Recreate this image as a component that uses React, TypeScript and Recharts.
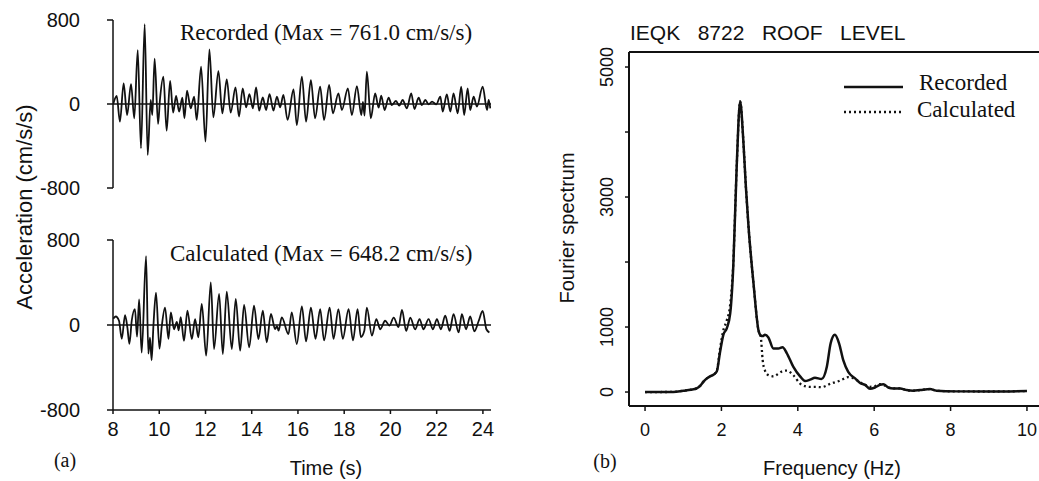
import { LineChart, Line, XAxis, YAxis, ReferenceLine } from "recharts";

const SANS = '"Liberation Sans", Arial, Helvetica, sans-serif';
const SERIF = '"Liberation Serif", "Times New Roman", serif';
const INK = "#111";

// (a) recorded roof acceleration, peaks/troughs
const recTime = [
  8.01, 8.16, 8.3, 8.46, 8.61, 8.78, 8.92, 9.07, 9.21, 9.37, 9.5, 9.63, 9.7, 9.8, 9.95,
  10.03, 10.18, 10.32, 10.47, 10.6, 10.73, 10.86, 11.0, 11.09, 11.2, 11.36, 11.51, 11.62,
  11.81, 12.0, 12.17, 12.34, 12.56, 12.73, 12.92, 13.09, 13.3, 13.45, 13.61, 13.76, 13.9,
  14.05, 14.19, 14.32, 14.48, 14.62, 14.77, 14.94, 15.09, 15.23, 15.37, 15.55, 15.81,
  15.95, 16.17, 16.35, 16.56, 16.74, 16.96, 17.13, 17.35, 17.51, 17.75, 17.9, 18.16,
  18.33, 18.55, 18.74, 18.81, 18.88, 18.98, 19.15, 19.34, 19.49, 19.6, 19.75, 19.92,
  20.06, 20.24, 20.38, 20.53, 20.71, 20.9, 21.04, 21.22, 21.36, 21.51, 21.65, 21.8,
  21.98, 22.16, 22.26, 22.44, 22.59, 22.73, 22.91, 23.06, 23.19, 23.34, 23.45, 23.6,
  23.74, 23.99, 24.18, 24.25, 24.32,
];
const recAcc = [
  0, 76, -168, 197, -105, 190, -136, 514, -422, 761, -485, 38, -105, 431, -190,
  38, 260, -254, 219, -82, 76, -73, 60, -136, 127, -41, 70, -152,
  355, -358, 520, -127, 314, -89, 235, -82, 158, -120, 149, -32, 95,
  -41, 158, -63, 63, -57, 95, -63, 70, -32, 86, -152, 140,
  -200, 260, -168, 228, -136, 165, -152, 181, -89, 101, -57, 149,
  -105, 171, -105, 20, -110, 308, -136, 100, -35, 80, -57, 60,
  -10, 29, -16, 38, -41, 101, -48, 60, -10, 38, -3, 22,
  -3, 70, -73, 92, -73, 101, -89, 165, -105, 149, -57, 70,
  -25, 165, -57, 38, -41,
];

// (a) calculated roof acceleration
const calcTime = [
  8.01, 8.12, 8.26, 8.38, 8.52, 8.62, 8.71, 8.81, 8.95, 9.04, 9.13, 9.24, 9.43, 9.53,
  9.6, 9.67, 9.75, 9.86, 10.01, 10.11, 10.25, 10.4, 10.5, 10.64, 10.76, 10.84, 10.93,
  11.07, 11.22, 11.41, 11.55, 11.69, 11.84, 12.03, 12.23, 12.37, 12.59, 12.75, 12.92,
  13.14, 13.31, 13.5, 13.67, 13.89, 14.1, 14.29, 14.48, 14.65, 14.83, 15.01, 15.09,
  15.16, 15.3, 15.59, 15.73, 15.95, 16.17, 16.35, 16.56, 16.76, 16.96, 17.13, 17.37,
  17.54, 17.75, 17.94, 18.19, 18.38, 18.58, 18.72, 18.87, 18.98, 19.2, 19.39, 19.56,
  19.77, 19.96, 20.14, 20.35, 20.5, 20.68, 20.86, 21.07, 21.26, 21.43, 21.65, 21.84,
  22.01, 22.18, 22.37, 22.56, 22.73, 22.95, 23.09, 23.27, 23.45, 23.63, 23.82, 23.99,
  24.15, 24.28,
];
const calcAcc = [
  60, 80, 40, -130, 93, -20, -177, 40, 149, -110, 242, -260, 648, -270,
  -120, -332, 0, 304, -223, -10, 164, -130, 118, -40, 30, -50, 75,
  -148, 135, -132, 56, -116, 198, -289, 402, -226, 292, -273, 313,
  -226, 245, -242, 188, -210, 182, -132, 135, -163, 104, -38, -10,
  -53, 72, -85, 119, -179, 174, -155, 164, -130, 150, -145, 164,
  -130, 150, -130, 150, -145, 150, -115, -55, 164, -100, 56, -40,
  40, -5, 70, -20, 143, -55, 70, -40, 56, -40, 56, -40,
  56, -40, 87, -55, 102, -70, 102, -40, 80, -60, 40, 133,
  -40, -70,
];

const timeTicks = [8, 10, 12, 14, 16, 18, 20, 22, 24];
const accTicks = [-800, 0, 800];

// (b) Fourier spectra
const freq = [
  0, 0.4, 0.74, 1.0, 1.2, 1.35, 1.45, 1.53, 1.62, 1.7, 1.8, 1.88, 1.96, 2.05, 2.14, 2.23,
  2.31, 2.4, 2.49, 2.57, 2.64, 2.71, 2.84, 2.97, 3.03, 3.08, 3.14, 3.23, 3.36, 3.49, 3.6,
  3.71, 3.88, 4.06, 4.19, 4.32, 4.45, 4.62, 4.76, 4.86, 4.97, 5.08, 5.19, 5.32, 5.5, 5.63,
  5.76, 5.89, 6.02, 6.15, 6.24, 6.37, 6.5, 6.68, 6.85, 7.02, 7.2, 7.46, 7.63, 8.16, 9.03, 10.0,
];
const specRecorded = [
  0, 0, 2, 20, 35, 56, 100, 160, 210, 240, 270, 320, 600, 880, 980, 1210,
  1930, 3470, 4470, 3900, 3160, 2540, 1670, 950, 870, 860, 880, 840, 670, 670, 690,
  600, 390, 240, 170, 190, 220, 200, 390, 750, 880, 750, 490, 310, 210, 140,
  110, 50, 70, 110, 120, 70, 55, 55, 30, 20, 30, 45, 20, 10, 8, 15,
];
const specCalculated = [
  0, 0, 2, 20, 35, 56, 100, 160, 210, 240, 270, 330, 650, 950, 1100, 1350,
  1980, 3470, 4470, 3900, 3160, 2540, 1670, 950, 850, 490, 330, 260, 240, 280, 320,
  330, 260, 130, 90, 80, 80, 75, 100, 130, 150, 170, 200, 230, 200, 150,
  110, 80, 90, 120, 110, 70, 55, 55, 30, 20, 30, 45, 20, 10, 8, 15,
];
const freqTicks = [0, 2, 4, 6, 8, 10];
const specTicks = [0, 1000, 2000, 3000, 4000, 5000];
const specLabels = [0, 1000, 3000, 5000];
const SPEC_TOP = 5231;

const recData = recTime.map((t, i) => ({ t, a: recAcc[i] }));
const calcData = calcTime.map((t, i) => ({ t, a: calcAcc[i] }));
const specData = freq.map((f, i) => ({
  f,
  recorded: specRecorded[i],
  calculated: specCalculated[i],
}));

const axisStroke = { stroke: INK, strokeWidth: 1.5 };
const tickFont = { fontSize: 20, fontFamily: SANS, fill: INK };

function SpecTick(props: any) {
  const { x, y, payload } = props;
  if (!specLabels.includes(payload.value)) return <g />;
  return (
    <text
      x={x}
      y={y}
      transform={`rotate(-90 ${x} ${y})`}
      textAnchor="middle"
      fontSize={18}
      fontFamily={SANS}
      fill={INK}
    >
      {payload.value}
    </text>
  );
}

export default function App() {
  return (
    <div
      style={{
        position: "absolute",
        left: 0,
        top: 0,
        width: 1039,
        height: 481,
        overflow: "hidden",
        background: "#fff",
      }}
    >
      {/* (a) recorded */}
      <div style={{ position: "absolute", left: 0, top: 0 }}>
        <LineChart
          width={520}
          height={200}
          data={recData}
          margin={{ top: 20, right: 29, bottom: 12, left: 0 }}
        >
          <XAxis type="number" dataKey="t" domain={[8, 24.35]} allowDataOverflow hide />
          <YAxis
            width={113}
            domain={[-800, 800]}
            ticks={accTicks}
            interval={0}
            allowDataOverflow
            tickSize={6}
            tickMargin={27}
            axisLine={axisStroke}
            tickLine={axisStroke}
            tick={tickFont}
          />
          <ReferenceLine y={0} stroke={INK} strokeWidth={1.5} />
          <Line
            type="monotone"
            dataKey="a"
            stroke={INK}
            strokeWidth={1.8}
            dot={false}
            activeDot={false}
            isAnimationActive={false}
          />
        </LineChart>
      </div>

      {/* (a) calculated */}
      <div style={{ position: "absolute", left: 0, top: 220 }}>
        <LineChart
          width={520}
          height={240}
          data={calcData}
          margin={{ top: 20, right: 29, bottom: 0, left: 0 }}
        >
          <XAxis
            type="number"
            dataKey="t"
            domain={[8, 24.35]}
            allowDataOverflow
            ticks={timeTicks}
            interval={0}
            height={50}
            tickSize={4}
            tickMargin={8}
            axisLine={axisStroke}
            tickLine={axisStroke}
            tick={tickFont}
          />
          <YAxis
            width={113}
            domain={[-800, 800]}
            ticks={accTicks}
            interval={0}
            allowDataOverflow
            tickSize={6}
            tickMargin={27}
            axisLine={axisStroke}
            tickLine={axisStroke}
            tick={tickFont}
          />
          <ReferenceLine y={0} stroke={INK} strokeWidth={1.5} />
          <Line
            type="monotone"
            dataKey="a"
            stroke={INK}
            strokeWidth={1.8}
            dot={false}
            activeDot={false}
            isAnimationActive={false}
          />
        </LineChart>
      </div>

      {/* (b) spectrum */}
      <div style={{ position: "absolute", left: 540, top: 0 }}>
        <LineChart
          width={520}
          height={481}
          data={specData}
          margin={{ top: 52, right: 17, bottom: 0, left: 0 }}
        >
          <XAxis
            type="number"
            dataKey="f"
            domain={[-0.42, 10.42]}
            allowDataOverflow
            ticks={freqTicks}
            interval={0}
            height={75}
            tickSize={5}
            tickMargin={12}
            axisLine={{ stroke: INK, strokeWidth: 2 }}
            tickLine={axisStroke}
            tick={{ fontSize: 18, fontFamily: SANS, fill: INK }}
          />
          <YAxis
            width={89}
            domain={[-215, SPEC_TOP]}
            ticks={specTicks}
            interval={0}
            allowDataOverflow
            tickSize={4}
            tickMargin={12}
            axisLine={{ stroke: INK, strokeWidth: 2 }}
            tickLine={axisStroke}
            tick={<SpecTick />}
          />
          <ReferenceLine y={SPEC_TOP} stroke={INK} strokeWidth={2} />
          <Line
            type="monotone"
            dataKey="calculated"
            stroke={INK}
            strokeWidth={2.3}
            strokeDasharray="2 3"
            dot={false}
            activeDot={false}
            isAnimationActive={false}
          />
          <Line
            type="monotone"
            dataKey="recorded"
            stroke={INK}
            strokeWidth={2.5}
            dot={false}
            activeDot={false}
            isAnimationActive={false}
          />
        </LineChart>
      </div>

      <svg
        width={1039}
        height={481}
        style={{ position: "absolute", left: 0, top: 0, pointerEvents: "none" }}
      >
        <g fill={INK}>
          <text x={180} y={40} fontFamily={SERIF} fontSize={23}>
            Recorded (Max = 761.0 cm/s/s)
          </text>
          <text x={170} y={261} fontFamily={SERIF} fontSize={23}>
            Calculated (Max = 648.2 cm/s/s)
          </text>
          <text
            x={32}
            y={207}
            transform="rotate(-90 32 207)"
            textAnchor="middle"
            fontFamily={SANS}
            fontSize={22}
          >
            Acceleration (cm/s/s)
          </text>
          <text x={65} y={467} textAnchor="middle" fontFamily={SERIF} fontSize={20}>
            (a)
          </text>
          <text x={326} y={475} textAnchor="middle" fontFamily={SANS} fontSize={20}>
            Time (s)
          </text>

          <text x={630} y={40} fontFamily={SANS} fontSize={21} style={{ whiteSpace: "pre" }}>
            {"IEQK   8722   ROOF   LEVEL"}
          </text>
          <text
            x={574}
            y={228}
            transform="rotate(-90 574 228)"
            textAnchor="middle"
            fontFamily={SANS}
            fontSize={20}
          >
            Fourier spectrum
          </text>
          <text x={605} y={468} textAnchor="middle" fontFamily={SERIF} fontSize={20}>
            (b)
          </text>
          <text x={832} y={475} textAnchor="middle" fontFamily={SANS} fontSize={20}>
            Frequency (Hz)
          </text>

          <line x1={844} y1={87} x2={903} y2={87} stroke={INK} strokeWidth={2.5} />
          <text x={919} y={90} fontFamily={SERIF} fontSize={23}>
            Recorded
          </text>
          <line
            x1={844}
            y1={112}
            x2={903}
            y2={112}
            stroke={INK}
            strokeWidth={2.3}
            strokeDasharray="2 3"
          />
          <text x={917} y={117} fontFamily={SERIF} fontSize={23}>
            Calculated
          </text>
        </g>
      </svg>
    </div>
  );
}
